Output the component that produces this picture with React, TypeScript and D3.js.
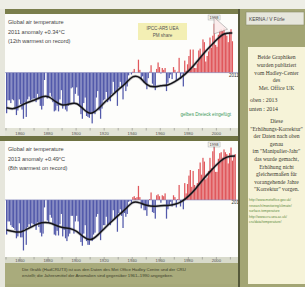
import React from "react";
import * as d3 from "d3";

// annual anomalies, first year 1850
const startYear = 1850;
const anomaliesTop = [
  -0.44, -0.3, -0.3, -0.33, -0.29, -0.3, -0.4, -0.46, -0.41, -0.29,
  -0.34, -0.4, -0.5, -0.32, -0.48, -0.29, -0.26, -0.3, -0.29, -0.28,
  -0.28, -0.32, -0.23, -0.29, -0.36, -0.4, -0.36, -0.08, 0.0, -0.28,
  -0.27, -0.22, -0.26, -0.32, -0.42, -0.41, -0.36, -0.42, -0.29, -0.19,
  -0.39, -0.35, -0.4, -0.42, -0.36, -0.34, -0.17, -0.16, -0.33, -0.23,
  -0.16, -0.25, -0.36, -0.45, -0.5, -0.33, -0.27, -0.47, -0.48, -0.49,
  -0.44, -0.55, -0.43, -0.45, -0.27, -0.2, -0.41, -0.5, -0.39, -0.3,
  -0.29, -0.21, -0.32, -0.3, -0.31, -0.23, -0.1, -0.21, -0.21, -0.36,
  -0.16, -0.1, -0.16, -0.29, -0.13, -0.2, -0.15, -0.03, 0.0, -0.02,
  0.01, 0.04, 0.0, 0.0, 0.14, 0.03, -0.07, -0.04, -0.11, -0.11,
  -0.18, -0.06, 0.01, 0.08, -0.12, -0.15, -0.19, 0.04, 0.11, 0.06,
  -0.01, 0.05, 0.03, 0.05, -0.2, -0.11, -0.06, -0.02, -0.07, 0.06,
  0.03, -0.09, 0.01, 0.16, -0.07, -0.01, -0.15, 0.13, 0.02, 0.09,
  0.18, 0.25, 0.04, 0.25, 0.05, 0.05, 0.1, 0.24, 0.26, 0.17,
  0.36, 0.33, 0.12, 0.18, 0.23, 0.38, 0.27, 0.4, 0.53, 0.3,
  0.28, 0.41, 0.46, 0.47, 0.45, 0.48, 0.43, 0.4, 0.33, 0.44,
  0.47, 0.34,
];
const anomaliesBottom = [
  -0.37, -0.23, -0.23, -0.27, -0.29, -0.3, -0.32, -0.41, -0.39, -0.25,
  -0.4, -0.4, -0.54, -0.31, -0.48, -0.29, -0.26, -0.29, -0.25, -0.26,
  -0.27, -0.32, -0.24, -0.29, -0.35, -0.39, -0.36, -0.08, 0.0, -0.22,
  -0.24, -0.16, -0.19, -0.26, -0.37, -0.38, -0.33, -0.38, -0.26, -0.15,
  -0.39, -0.32, -0.41, -0.44, -0.39, -0.36, -0.17, -0.17, -0.36, -0.23,
  -0.17, -0.23, -0.37, -0.45, -0.49, -0.36, -0.27, -0.44, -0.48, -0.48,
  -0.43, -0.44, -0.37, -0.35, -0.18, -0.15, -0.35, -0.43, -0.33, -0.27,
  -0.27, -0.18, -0.28, -0.26, -0.27, -0.22, -0.11, -0.2, -0.19, -0.34,
  -0.14, -0.1, -0.17, -0.3, -0.14, -0.18, -0.15, -0.02, -0.01, -0.04,
  0.03, 0.04, 0.02, 0.03, 0.15, 0.03, -0.09, -0.05, -0.11, -0.11,
  -0.17, -0.07, 0.01, 0.08, -0.13, -0.14, -0.2, 0.05, 0.06, 0.04,
  -0.03, 0.05, 0.04, 0.07, -0.2, -0.1, -0.05, -0.02, -0.07, 0.05,
  0.03, -0.08, 0.01, 0.16, -0.07, -0.01, -0.1, 0.18, 0.07, 0.17,
  0.26, 0.32, 0.14, 0.31, 0.16, 0.12, 0.18, 0.33, 0.4, 0.27,
  0.45, 0.41, 0.22, 0.24, 0.31, 0.45, 0.34, 0.52, 0.57, 0.3,
  0.3, 0.44, 0.5, 0.51, 0.45, 0.54, 0.51, 0.49, 0.39, 0.5,
  0.56, 0.42, 0.47, 0.49,
];

// smoothed curves
const smoothYearsTop = [1850, 1855, 1860, 1865, 1870, 1875, 1880, 1885, 1890, 1895, 1900, 1905, 1910, 1915, 1920, 1925, 1930, 1935, 1940, 1945, 1950, 1955, 1960, 1965, 1970, 1975, 1980, 1985, 1990, 1995, 2000, 2005, 2011];
const smoothTop = [-0.38, -0.4, -0.36, -0.32, -0.3, -0.26, -0.25, -0.32, -0.36, -0.34, -0.32, -0.4, -0.46, -0.4, -0.32, -0.25, -0.18, -0.12, -0.03, -0.04, -0.14, -0.16, -0.14, -0.14, -0.1, -0.05, 0.02, 0.1, 0.2, 0.28, 0.36, 0.43, 0.43];
const smoothYearsBottom = [1850, 1855, 1860, 1865, 1870, 1875, 1880, 1885, 1890, 1895, 1900, 1905, 1910, 1915, 1920, 1925, 1930, 1935, 1940, 1945, 1950, 1955, 1960, 1965, 1970, 1975, 1980, 1985, 1990, 1995, 2000, 2005, 2010, 2013];
const smoothBottom = [-0.32, -0.34, -0.35, -0.31, -0.27, -0.24, -0.24, -0.27, -0.3, -0.3, -0.33, -0.4, -0.44, -0.38, -0.3, -0.23, -0.16, -0.1, -0.01, -0.03, -0.06, -0.07, -0.06, -0.06, -0.05, -0.02, 0.04, 0.12, 0.22, 0.3, 0.38, 0.45, 0.47, 0.47];

const tickYears = [1860, 1880, 1900, 1920, 1940, 1960, 1980, 2000];

const titleTop = ["Global air temperature", "2011 anomaly +0.34°C", "(12th warmest on record)"];
const titleBottom = ["Global air temperature", "2013 anomaly +0.49°C", "(8th warmest on record)"];

const sideText = [
  "Beide Graphiken",
  "wurden publiziert",
  "vom Hadley-Center",
  "des",
  "Met. Office UK",
];
const sideText2 = [
  "Diese",
  "\"Erhöhungs-Korrektur\"",
  "der Daten nach oben",
  "genau",
  "im \"Manipulier-Jahr\"",
  "das wurde gemacht,",
  "Erhöhung nicht",
  "gleichermaßen für",
  "vorangehende Jahre",
  "\"Korrektur\" vorgen.",
];
const linkText = [
  "http://www.metoffice.gov.uk/",
  "research/monitoring/climate/",
  "surface-temperature",
  "http://www.cru.uea.ac.uk/",
  "cru/data/temperature/",
];

const sans = "'Liberation Sans', Arial, sans-serif";
const serif = "'Liberation Serif', 'DejaVu Serif', serif";

const x = d3.scaleLinear().domain([1850, 2014]).range([6, 236]);

function Panel({ values, smoothYears, smooth, domain, top, bottom, title, lastLabel }) {
  const y = d3.scaleLinear().domain(domain).range([bottom, top]);
  const y0 = y(0);
  const line = d3.line<number>()
    .x((d, i) => x(smoothYears[i]) + 0.5)
    .y((d) => y(d))
    .curve(d3.curveBasis);
  const lastYear = startYear + values.length - 1;
  const x98 = x(1998) + 0.5;
  return (
    <g>
      <rect x={5} y={top} width={233} height={bottom - top} fill="#fdfdfb" />
      {values.map((v, i) => {
        const yr = startYear + i;
        return (
          <rect key={yr} x={x(yr)} width={1.25}
            y={Math.min(y(v), y0)} height={Math.abs(y(v) - y0)}
            fill={v < 0 ? "#5259aa" : "#e0585c"} />
        );
      })}
      <line x1={5} x2={238} y1={y0} y2={y0} stroke="#7c80b8" strokeWidth={0.6} />
      <path d={line(smooth) || ""} fill="none" stroke="#5a5a66" strokeWidth={3} opacity={0.35} />
      <path d={line(smooth) || ""} fill="none" stroke="#141418" strokeWidth={1.5} />
      <g fontFamily={sans} fontSize={5.6} fill="#444">
        {title.map((t, i) => (
          <text key={i} x={8} y={top + 10 + i * 9.5}>{t}</text>
        ))}
      </g>
      <text x={x(lastYear) + 7} y={y0 + 4} fontFamily={sans} fontSize={4.5} fill="#333" textAnchor="end">{lastLabel}</text>
      <rect x={x98 - 6} y={top + 1} width={12} height={5} fill="#f4f4f0" stroke="#999" strokeWidth={0.4} />
      <text x={x98} y={top + 5} fontFamily={sans} fontSize={4} fill="#333" textAnchor="middle">1998</text>
    </g>
  );
}

function Ticks({ yTop, yLabel }) {
  return (
    <g>
      {d3.range(1850, 2015, 10).map((yr) => (
        <line key={yr} x1={x(yr)} x2={x(yr)} y1={yTop} y2={yTop + 2.5} stroke="#777" strokeWidth={0.5} />
      ))}
      {tickYears.map((yr) => (
        <text key={yr} x={x(yr)} y={yLabel} fontFamily={sans} fontSize={4.2} fill="#555" textAnchor="middle">{yr}</text>
      ))}
    </g>
  );
}

export default function App() {
  const yTop = d3.scaleLinear().domain([-0.6, 0.635]).range([128, 14]);
  const yBot = d3.scaleLinear().domain([-0.61, 0.63]).range([257, 141]);
  const x98 = x(1998) + 0.5;
  return (
    <svg width={305} height={287} style={{ position: "absolute", left: 0, top: 0 }}>
      <rect width={305} height={287} fill="#a6a879" />
      <rect width={305} height={9} fill="#eeeee6" />
      <rect x={0} y={9} width={240} height={5} fill="#7a7e4c" />
      <rect x={0} y={9} width={5} height={278} fill="#e6e6dc" />

      <Panel values={anomaliesTop} smoothYears={smoothYearsTop} smooth={smoothTop}
        domain={[-0.6, 0.635]} top={14} bottom={128} title={titleTop} lastLabel="2011" />
      {/* triangle annotation at 1998 */}
      <polygon points={`${x98},${yTop(0.6)} ${x(2008)},${yTop(0.47)} ${x98},${yTop(0.42)}`}
        fill="#fbeaea" stroke="#777" strokeWidth={0.5} opacity={0.85} />
      <rect x={138} y={23} width={49} height={17} fill="#f3efb4" />
      <text x={162.5} y={30} fontFamily={sans} fontSize={4.6} fill="#555" textAnchor="middle">IPCC-AR5 UEA</text>
      <text x={162.5} y={37} fontFamily={sans} fontSize={4.6} fill="#555" textAnchor="middle">PM share</text>
      <text x={231} y={116} fontFamily={sans} fontSize={4.6} fill="#3f9a5c" textAnchor="end">gelbes Dreieck eingefügt</text>

      <rect x={5} y={128} width={233} height={8} fill="#e2e3d6" />
      <Ticks yTop={128} yLabel={135} />
      <rect x={0} y={136} width={240} height={5} fill="#6e7242" />

      <Panel values={anomaliesBottom} smoothYears={smoothYearsBottom} smooth={smoothBottom}
        domain={[-0.61, 0.63]} top={141} bottom={257} title={titleBottom} lastLabel="2013" />
      <line x1={x98} x2={x98} y1={146} y2={yBot(0.55)} stroke="#888" strokeWidth={0.5} />

      <rect x={5} y={257} width={233} height={6} fill="#d8dacb" />
      <Ticks yTop={257} yLabel={262} />
      <rect x={5} y={263} width={233} height={21} fill="#a9ab7c" />
      <g fontFamily={sans} fontSize={4.3} fill="#3c3e2a">
        <text x={22} y={271}>Die Grafik (HadCRUT3) ist aus den Daten des Met Office Hadley Centre und der CRU</text>
        <text x={22} y={277}>erstellt; die Jahresmittel der Anomalien sind gegenüber 1961–1990 angegeben.</text>
      </g>

      {/* right side */}
      <rect x={238} y={9} width={2} height={278} fill="#55583a" />
      <rect x={240} y={9} width={65} height={278} fill="#a3a574" />
      <rect x={246} y={12} width={58} height={13} fill="#e6e6dc" stroke="#8c8e6a" strokeWidth={0.6} />
      <text x={249} y={20.5} fontFamily={sans} fontSize={4.8} fill="#444">KERNA / V Fürle</text>
      <rect x={248} y={47} width={57} height={237} fill="#f6f3d8" />
      <g fontFamily={serif} fontSize={5.6} fill="#3a3a30" textAnchor="middle">
        {sideText.map((t, i) => (
          <text key={i} x={276.5} y={59 + i * 7.8}>{t}</text>
        ))}
        {sideText2.map((t, i) => (
          <text key={i} x={276.5} y={123 + i * 7.6}>{t}</text>
        ))}
      </g>
      <g fontFamily={serif} fontSize={5.8} fill="#3a3a30">
        <text x={250} y={102}>oben  : 2013</text>
        <text x={249} y={111}>unten : 2014</text>
      </g>
      <g fontFamily={sans} fontSize={3.4} fill="#5d8a3c">
        {linkText.map((t, i) => (
          <text key={i} x={249} y={201 + i * 5.5}>{t}</text>
        ))}
      </g>
    </svg>
  );
}
